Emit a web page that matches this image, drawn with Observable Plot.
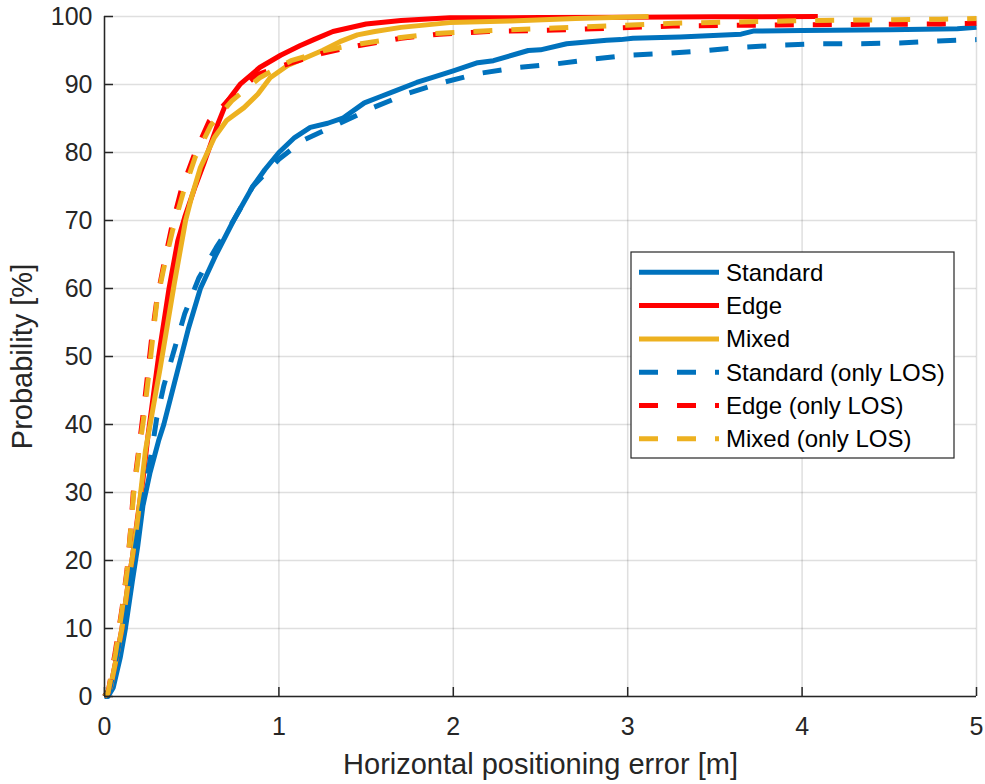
<!DOCTYPE html>
<html><head><meta charset="utf-8">
<script src="https://cdn.jsdelivr.net/npm/d3@7"></script>
<script src="https://cdn.jsdelivr.net/npm/@observablehq/plot@0.6"></script>
<style>
body{margin:0;background:#fff}
#chart{position:relative;width:985px;height:784px}
</style>
</head><body><div id="chart"></div>
<script>
// ---- data (x: error [m], y: probability [%]) ----
const seriesNames = ["Standard", "Edge", "Mixed", "Standard (only LOS)", "Edge (only LOS)", "Mixed (only LOS)"];
const seriesColors = ["#0072BD", "#FF0000", "#EDB120", "#0072BD", "#FF0000", "#EDB120"];
const seriesDashed = [false, false, false, true, true, true];

const standardX = [0, 0.02, 0.05, 0.09, 0.12, 0.16, 0.19, 0.22, 0.26, 0.31, 0.34, 0.40, 0.44, 0.48, 0.55, 0.64, 0.74, 0.85, 0.92, 1.0, 1.09, 1.18, 1.28, 1.37, 1.49, 1.58, 1.66, 1.79, 1.9, 2.0, 2.14, 2.23, 2.43, 2.5, 2.65, 2.88, 2.96, 3.03, 3.3, 3.65, 3.72, 4.0, 4.5, 4.89, 5.0];
const standardY = [0, 0, 1.3, 5.7, 10, 17, 22, 28, 32.8, 37.6, 40, 46, 50, 54, 60, 65, 70, 75, 77.5, 80, 82.2, 83.7, 84.3, 85.1, 87.3, 88.2, 89, 90.3, 91.2, 92, 93.2, 93.5, 95, 95.1, 96, 96.5, 96.6, 96.8, 97, 97.4, 97.85, 97.95, 98.05, 98.2, 98.4];

const edgeX = [0, 0.034, 0.073, 0.10, 0.13, 0.16, 0.19, 0.22, 0.25, 0.31, 0.37, 0.42, 0.46, 0.52, 0.57, 0.65, 0.70, 0.78, 0.89, 1.01, 1.12, 1.2, 1.31, 1.5, 1.70, 1.98, 2.5, 3.0, 3.5, 4.09];
const edgeY = [0, 1.3, 6.3, 10, 15.6, 20.5, 26.4, 31.8, 38.5, 50, 60, 67, 70.5, 75, 78.4, 84.2, 87.4, 90.1, 92.5, 94.3, 95.7, 96.6, 97.8, 98.9, 99.4, 99.8, 99.85, 99.9, 99.95, 100];

const mixedX = [0, 0.034, 0.073, 0.10, 0.13, 0.16, 0.19, 0.235, 0.32, 0.40, 0.465, 0.50, 0.55, 0.63, 0.70, 0.80, 0.88, 0.95, 1.05, 1.16, 1.25, 1.35, 1.45, 1.55, 1.70, 1.98, 2.33, 2.7, 3.12];
const mixedY = [0, 1.3, 6.3, 10, 15.6, 20.5, 26, 36.2, 48.4, 60.7, 70, 73.5, 77.8, 82.2, 84.7, 86.6, 88.6, 91, 92.8, 94, 95, 96.3, 97.3, 97.8, 98.4, 99.1, 99.35, 99.7, 100];

const standardLosX = [0, 0.03, 0.07, 0.11, 0.15, 0.19, 0.23, 0.27, 0.30, 0.34, 0.40, 0.46, 0.54, 0.64, 0.74, 0.85, 1.0, 1.14, 1.34, 1.54, 1.74, 1.94, 2.14, 2.37, 2.58, 2.79, 3.0, 3.23, 3.46, 3.67, 3.89, 4.12, 4.34, 4.56, 4.78, 5.0];
const standardLosY = [0, 1, 6, 11, 17.5, 24, 30, 36, 41, 45.7, 51, 56.3, 61.5, 66, 70, 75, 79, 81.8, 84.2, 86.6, 88.7, 90.3, 91.6, 92.5, 93, 93.7, 94.3, 94.6, 95, 95.5, 95.8, 96, 96, 96.1, 96.4, 96.6];

const edgeLosX = [0, 0.02, 0.06, 0.10, 0.13, 0.15, 0.165, 0.195, 0.22, 0.245, 0.27, 0.30, 0.34, 0.385, 0.44, 0.52, 0.60, 0.72, 0.88, 1.05, 1.25, 1.45, 1.70, 1.92, 2.2, 2.58, 3.26, 4.03, 4.79, 5.0];
const edgeLosY = [0, 0.5, 6.3, 12.8, 18.8, 24.6, 30, 36, 41.2, 46.8, 52.6, 58.3, 63.5, 69, 74.5, 80, 84.6, 88, 91.5, 93, 94.6, 95.7, 96.8, 97.4, 97.8, 98.0, 98.6, 98.8, 98.9, 99.0];

const mixedLosX = [0, 0.02, 0.063, 0.10, 0.13, 0.15, 0.167, 0.196, 0.225, 0.25, 0.275, 0.30, 0.34, 0.39, 0.45, 0.52, 0.61, 0.73, 0.89, 1.07, 1.26, 1.47, 1.70, 1.89, 2.2, 2.58, 3.26, 4.03, 4.79, 5.0];
const mixedLosY = [0, 0.5, 6.3, 12.6, 18.5, 24.4, 29.8, 35.7, 41, 46.5, 52.4, 58, 63, 68.5, 74, 79.3, 84, 87.6, 91, 93.5, 95, 96, 96.9, 97.5, 97.9, 98.3, 99.0, 99.4, 99.6, 99.7];

const xTicks = [0, 1, 2, 3, 4, 5];
const yTicks = [0, 10, 20, 30, 40, 50, 60, 70, 80, 90, 100];
const xLabel = "Horizontal positioning error [m]";
const yLabel = "Probability [%]";

// ---- build table ----
const seriesX = [standardX, edgeX, mixedX, standardLosX, edgeLosX, mixedLosX];
const seriesY = [standardY, edgeY, mixedY, standardLosY, edgeLosY, mixedLosY];
const rows = [];
seriesNames.forEach((name, i) => {
  seriesX[i].forEach((x, j) => rows.push({series: name, x, y: seriesY[i][j]}));
});

const axisColor = "#262626";
const font = "'Liberation Sans', Arial, Helvetica, sans-serif";

const lineMarks = seriesNames.map((name, i) =>
  Plot.line(rows.filter(d => d.series === name), {
    x: "x", y: "y",
    stroke: seriesColors[i],
    strokeWidth: 5,
    strokeLinecap: "butt",
    strokeLinejoin: "round",
    strokeDasharray: seriesDashed[i] ? "19,19" : null
  })
);

const chart = Plot.plot({
  width: 985,
  height: 784,
  marginLeft: 104,
  marginRight: 9,
  marginTop: 16,
  marginBottom: 88,
  style: {fontFamily: font, fontSize: "25px", color: axisColor, background: "#fff"},
  x: {domain: [0, 5], ticks: xTicks},
  y: {domain: [0, 100], ticks: yTicks},
  marks: [
    Plot.gridX(xTicks, {stroke: axisColor, strokeOpacity: 0.15, strokeWidth: 1.5}),
    Plot.gridY(yTicks, {stroke: axisColor, strokeOpacity: 0.15, strokeWidth: 1.5}),
    ...lineMarks,
    Plot.ruleX([0], {stroke: axisColor, strokeWidth: 1.5}),
    Plot.ruleY([0], {stroke: axisColor, strokeWidth: 1.5}),
    Plot.axisX(xTicks, {tickSize: -9, tickPadding: 30, label: null, fontSize: 25, tickFormat: d => String(d), stroke: axisColor, strokeWidth: 1.5}),
    Plot.axisY(yTicks, {tickSize: -9, tickPadding: 21, label: null, fontSize: 25, tickFormat: d => String(d), stroke: axisColor, strokeWidth: 1.5}),
    Plot.text([xLabel], {frameAnchor: "bottom", dy: 77, lineAnchor: "bottom", textAnchor: "middle", fontSize: 29, fill: axisColor}),
    Plot.text([yLabel], {frameAnchor: "left", dx: -82, rotate: -90, lineAnchor: "middle", textAnchor: "middle", fontSize: 29, fill: axisColor})
  ]
});

document.getElementById("chart").appendChild(chart);

// ---- legend (inside the axes) ----
const svg = d3.select(chart);
const lg = svg.append("g").attr("font-family", font).attr("font-size", 24).attr("text-anchor", "start");
const box = {x: 631, y: 252, w: 323, h: 206};
lg.append("rect").attr("x", box.x).attr("y", box.y).attr("width", box.w).attr("height", box.h)
  .attr("fill", "#fff").attr("stroke", axisColor).attr("stroke-width", 1.2);
seriesNames.forEach((name, i) => {
  const cy = 272.3 + i * 33.3;
  lg.append("line").attr("x1", 639).attr("x2", 719).attr("y1", cy).attr("y2", cy)
    .attr("stroke", seriesColors[i]).attr("stroke-width", 5)
    .attr("stroke-dasharray", seriesDashed[i] ? "19,19" : null);
  lg.append("text").attr("x", 726).attr("y", cy).attr("dy", "0.35em")
    .attr("text-anchor", "start").attr("fill", "#000").text(name);
});
</script>
</body></html>
